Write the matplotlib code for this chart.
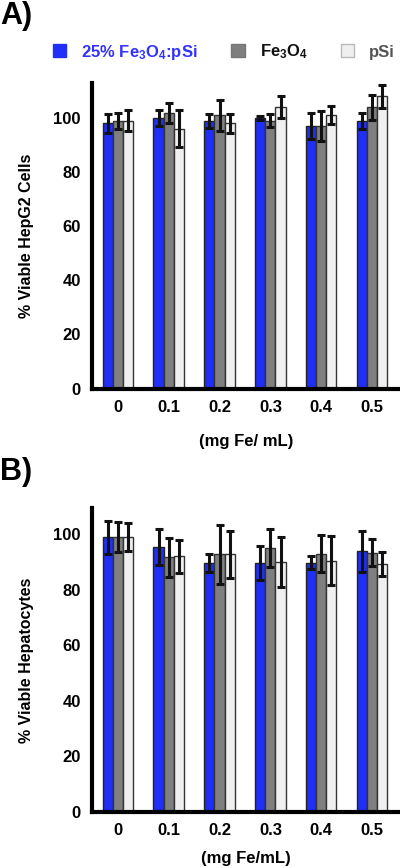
import numpy as np
import matplotlib
matplotlib.use('Agg')
import matplotlib.pyplot as plt
from matplotlib.patches import Patch

plt.rcParams['font.family'] = ['Liberation Sans', 'DejaVu Sans']
plt.rcParams['font.weight'] = 'bold'
plt.rcParams['mathtext.fontset'] = 'custom'
plt.rcParams['mathtext.rm'] = 'Liberation Sans:bold'
plt.rcParams['mathtext.default'] = 'rm'

doses = ['0', '0.1', '0.2', '0.3', '0.4', '0.5']
series = [r'25% Fe$_3$O$_4$:pSi', r'Fe$_3$O$_4$', 'pSi']

# panel A - HepG2
hep_comp = [98, 100, 99, 100, 97, 99]
hep_comp_err = [3.5, 2.8, 2.6, 0.6, 4.7, 3.0]
hep_fe = [99, 102, 101, 99, 97, 104]
hep_fe_err = [3.0, 3.7, 5.8, 2.4, 5.4, 4.6]
hep_psi = [99, 96, 98, 104, 101, 108]
hep_psi_err = [3.8, 6.8, 3.5, 4.0, 3.4, 4.2]

# panel B - hepatocytes
hc_comp = [99, 95.4, 89.7, 89.6, 89.8, 93.9]
hc_comp_err = [6.0, 6.4, 3.4, 6.2, 2.3, 7.4]
hc_fe = [99, 91.7, 92.8, 95, 93, 93.4]
hc_fe_err = [5.3, 7.1, 10.5, 6.9, 6.7, 4.9]
hc_psi = [99, 92.1, 92.8, 90, 90.6, 89.3]
hc_psi_err = [5.1, 5.9, 8.6, 9.0, 8.7, 4.2]

colors = ['#1f2ff5', '#7f7f7f', '#efefef']
edges = ['#222222', '#333333', '#333333']

fig = plt.figure(figsize=(4, 8.68), dpi=100)
axA = fig.add_axes([0.23, 0.5524, 0.77, 0.3516])
axB = fig.add_axes([0.23, 0.0645, 0.77, 0.3502])

def draw(ax, vals, errs, ymax, ylabel, xlabel, xpad):
	x = np.arange(len(doses))
	w = 0.2
	for i in range(3):
		ax.bar(x + (i - 1) * w, vals[i], w, color=colors[i], edgecolor=edges[i], linewidth=1.0, zorder=2)
		ax.errorbar(x + (i - 1) * w, vals[i], yerr=errs[i], fmt='none', ecolor='#111111',
			elinewidth=2.2, capsize=3, capthick=2.2, zorder=3)
	ax.set_xlim(-0.51, 5.55)
	ax.set_ylim(0, ymax)
	ax.set_yticks([0, 20, 40, 60, 80, 100])
	ax.set_xticks(x)
	ax.set_xticklabels(doses)
	ax.tick_params(length=0, labelsize=12, pad=8)
	for lab in ax.get_xticklabels() + ax.get_yticklabels():
		lab.set_fontweight('bold')
	ax.spines['top'].set_visible(False)
	ax.spines['right'].set_visible(False)
	ax.spines['left'].set_linewidth(3)
	ax.spines['bottom'].set_linewidth(3)
	ax.set_ylabel(ylabel, fontsize=11.5, fontweight='bold', labelpad=14)
	ax.set_xlabel(xlabel, fontsize=12, fontweight='bold', labelpad=xpad)

draw(axA, [hep_comp, hep_fe, hep_psi], [hep_comp_err, hep_fe_err, hep_psi_err], 112.8,
	'% Viable HepG2 Cells', '(mg Fe/ mL)', 14)
draw(axB, [hc_comp, hc_fe, hc_psi], [hc_comp_err, hc_fe_err, hc_psi_err], 109.5,
	'% Viable Hepatocytes', '(mg Fe/mL)', 9)

handles = [Patch(facecolor=colors[i], edgecolor=['#1f2ff5', '#777777', '#bbbbbb'][i]) for i in range(3)]
leg = fig.legend(handles, series, loc='center', bbox_to_anchor=(0.56, 0.94), ncol=3,
	frameon=False, fontsize=12, handlelength=0.8, handleheight=0.8, handletextpad=0.9,
	columnspacing=2.0)
for t, c in zip(leg.get_texts(), ['#3333ff', '#111111', '#555555']):
	t.set_color(c)
	t.set_fontweight('bold')

fig.text(0.0, 0.999, 'A)', fontsize=22, fontweight='bold', va='top', ha='left')
fig.text(0.0, 0.473, 'B)', fontsize=22, fontweight='bold', va='top', ha='left')

fig.savefig('out.png', dpi=100)
